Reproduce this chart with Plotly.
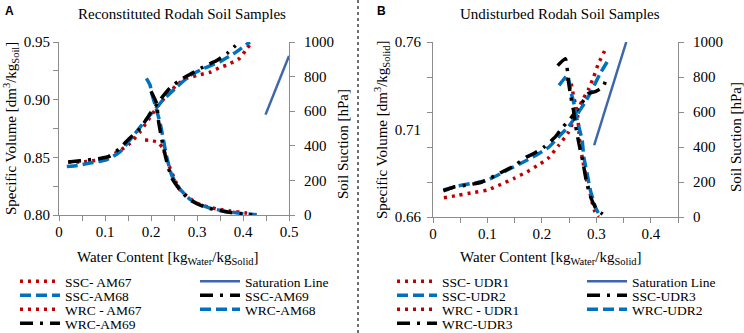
import plotly.graph_objects as go

# ---------------- Panel A: Reconstituted Rodah soil samples ----------------
w_ssc_am67 = [0.02, 0.05, 0.09, 0.11, 0.133, 0.154, 0.176, 0.19, 0.20, 0.22, 0.241, 0.26, 0.274,
              0.30, 0.33, 0.35, 0.365, 0.393, 0.408, 0.422]
v_ssc_am67 = [0.846, 0.846, 0.848, 0.851, 0.856, 0.862, 0.872, 0.880, 0.886, 0.897, 0.907, 0.914,
              0.918, 0.921, 0.924, 0.928, 0.930, 0.936, 0.944, 0.951]

w_sat_a = [0.449, 0.50]
v_sat_a = [0.887, 0.938]

w_ssc_am68 = [0.017, 0.04, 0.067, 0.104, 0.133, 0.16, 0.19, 0.227, 0.256, 0.285, 0.314, 0.35,
              0.38, 0.415]
v_ssc_am68 = [0.842, 0.843, 0.845, 0.848, 0.855, 0.868, 0.883, 0.900, 0.911, 0.921, 0.927, 0.933,
              0.940, 0.950]

w_ssc_am69 = [0.02, 0.046, 0.089, 0.11, 0.13, 0.147, 0.176, 0.20, 0.22, 0.241, 0.263, 0.285,
              0.321, 0.343, 0.365, 0.384]
v_ssc_am69 = [0.846, 0.847, 0.849, 0.851, 0.857, 0.864, 0.875, 0.889, 0.900, 0.910, 0.917, 0.922,
              0.930, 0.934, 0.940, 0.947]

w_wrc_am67 = [0.187, 0.201, 0.215, 0.225, 0.237, 0.25, 0.263, 0.285, 0.30, 0.32, 0.343, 0.372,
              0.404, 0.42]
s_wrc_am67 = [433, 430, 420, 390, 300, 215, 145, 95, 68, 50, 35, 23, 13, 6]

w_wrc_am68 = [0.19, 0.198, 0.2015, 0.209, 0.22, 0.227, 0.234, 0.245, 0.263, 0.285, 0.3065, 0.328,
              0.36, 0.393, 0.43]
s_wrc_am68 = [790, 751, 703, 636, 530, 434, 337, 230, 150, 90, 60, 40, 22, 10, 1]

w_wrc_am69 = [0.20, 0.212, 0.216, 0.223, 0.234, 0.245, 0.263, 0.285, 0.307, 0.328, 0.36, 0.393,
              0.42]
s_wrc_am69 = [715, 646, 549, 443, 310, 215, 145, 87, 57, 38, 20, 8, 1]

# ---------------- Panel B: Undisturbed Rodah soil samples ----------------
w_ssc_udr1 = [0.02, 0.046, 0.076, 0.10, 0.125, 0.149, 0.173, 0.195, 0.213, 0.231, 0.248, 0.261,
              0.273, 0.285, 0.295, 0.304, 0.313, 0.319]
v_ssc_udr1 = [0.671, 0.6724, 0.6741, 0.6754, 0.6787, 0.6821, 0.6859, 0.690, 0.694, 0.701, 0.708,
              0.717, 0.7259, 0.7326, 0.740, 0.7478, 0.7535, 0.7573]

w_sat_b = [0.296, 0.355]
v_sat_b = [0.701, 0.760]

w_ssc_udr2 = [0.019, 0.046, 0.082, 0.10, 0.137, 0.167, 0.19, 0.213, 0.231, 0.249, 0.264, 0.28,
              0.292, 0.307, 0.322]
v_ssc_udr2 = [0.6754, 0.6777, 0.6798, 0.6811, 0.6869, 0.6916, 0.6954, 0.700, 0.7059, 0.7116,
              0.7183, 0.7259, 0.7326, 0.742, 0.7497]

w_ssc_udr3 = [0.019, 0.04, 0.064, 0.09, 0.116, 0.148, 0.173, 0.186, 0.204, 0.225, 0.234, 0.255,
              0.273, 0.286, 0.298, 0.313, 0.319]
v_ssc_udr3 = [0.675, 0.6773, 0.6783, 0.680, 0.684, 0.6891, 0.6945, 0.6964, 0.700, 0.7059, 0.7097,
              0.7173, 0.725, 0.7307, 0.7316, 0.7345, 0.7411]

w_wrc_udr1 = [0.244, 0.252, 0.255, 0.258, 0.262, 0.266, 0.268, 0.270, 0.275, 0.2795, 0.284,
              0.2885, 0.2927, 0.2976, 0.304]
s_wrc_udr1 = [790, 780, 742, 695, 638, 571, 490, 410, 325, 249, 182, 135, 78, 30, 0]

w_wrc_udr2 = [0.2315, 0.247, 0.2527, 0.259, 0.265, 0.274, 0.277, 0.283, 0.289, 0.298, 0.307]
s_wrc_udr2 = [752, 809, 723, 647, 552, 438, 343, 249, 154, 59, 2]

w_wrc_udr3 = [0.229, 0.243, 0.249, 0.253, 0.258, 0.262, 0.268, 0.275, 0.282, 0.29, 0.30, 0.31,
              0.319]
s_wrc_udr3 = [865, 905, 770, 690, 610, 520, 420, 320, 200, 110, 45, 20, 0]

# tick labels
xticks_a = [0, 0.1, 0.2, 0.3, 0.4, 0.5]
yticks_a = [0.80, 0.85, 0.90, 0.95]
xticks_b = [0, 0.1, 0.2, 0.3, 0.4]
yticks_b = [0.66, 0.71, 0.76]
yticks_b_marks = [0.66, 0.68, 0.70, 0.72, 0.74, 0.76]
sticks = [0, 200, 400, 600, 800, 1000]

# ---------------- styles ----------------
RED = "#C00000"
BLUE = "#0070C0"
BLACK = "#000000"
SAT = "#3E66AC"
GRAY = "#8C8C8C"
SERIF = "Liberation Serif"
DOT = "3px,5px"
DASH = "11px,5px"
DASHDOT = "13px,7px,3px,7px"

W, H = 744, 333
ML, MR, MT, MB = 59, 66, 42, 116
PW = W - ML - MR
PH = H - MT - MB


def px2x(px):
    return (px - ML) / PW


def py2y(py):
    return (MT + PH - py) / PH


# legend grid: 2 columns x 4 rows per panel (pixel positions of each column / row)
LEG_COLS = {"A": [15, 195], "B": [392, 582]}
LEG_ROWS = [282, 296, 310, 324]
LEG_FONT = 13.5
LEG_OFFSET = 16  # distance from legend top to centre of its single item

fig = go.Figure()
legend_layout = {}
counter = {"A": 0, "B": 0, "n": 0}


def add(x, y, name, color, dash, width, xa, ya, panel):
    idx = counter[panel]
    counter[panel] += 1
    counter["n"] += 1
    lid = "legend" if counter["n"] == 1 else "legend%d" % counter["n"]
    row, col = idx // 2, idx % 2
    legend_layout[lid] = dict(
        x=LEG_COLS[panel][col] / W, y=1 - (LEG_ROWS[row] - LEG_OFFSET) / H,
        xref="container", yref="container", xanchor="left", yanchor="top",
        orientation="v", bgcolor="rgba(0,0,0,0)", tracegroupgap=0, itemwidth=40,
        font=dict(family=SERIF, size=LEG_FONT, color="black"))
    fig.add_trace(go.Scatter(
        x=x, y=y, name=name, mode="lines", xaxis=xa, yaxis=ya, legend=lid,
        line=dict(color=color, dash=dash, width=width, shape="spline", smoothing=0.5),
        hoverinfo="skip"))


# Panel A (order follows the original legend, read row by row)
add(w_ssc_am67, v_ssc_am67, "SSC- AM67", RED, DOT, 3.5, "x", "y", "A")
add(w_sat_a, v_sat_a, "Saturation Line", SAT, "solid", 2.5, "x", "y", "A")
add(w_ssc_am68, v_ssc_am68, "SSC-AM68", BLUE, DASH, 3.5, "x", "y", "A")
add(w_ssc_am69, v_ssc_am69, "SSC-AM69", BLACK, DASHDOT, 3.5, "x", "y", "A")
add(w_wrc_am67, s_wrc_am67, "WRC - AM67", RED, DOT, 3.5, "x", "y2", "A")
add(w_wrc_am68, s_wrc_am68, "WRC-AM68", BLUE, DASH, 3.5, "x", "y2", "A")
add(w_wrc_am69, s_wrc_am69, "WRC-AM69", BLACK, DASHDOT, 3.5, "x", "y2", "A")

# Panel B
add(w_ssc_udr1, v_ssc_udr1, "SSC- UDR1", RED, DOT, 3.5, "x2", "y3", "B")
add(w_sat_b, v_sat_b, "Saturation Line", SAT, "solid", 2.5, "x2", "y5", "B")
add(w_ssc_udr2, v_ssc_udr2, "SSC-UDR2", BLUE, DASH, 3.5, "x2", "y3", "B")
add(w_ssc_udr3, v_ssc_udr3, "SSC-UDR3", BLACK, DASHDOT, 3.5, "x2", "y3", "B")
add(w_wrc_udr1, s_wrc_udr1, "WRC - UDR1", RED, DOT, 3.5, "x2", "y4", "B")
add(w_wrc_udr2, s_wrc_udr2, "WRC-UDR2", BLUE, DASH, 3.5, "x2", "y4", "B")
add(w_wrc_udr3, s_wrc_udr3, "WRC-UDR3", BLACK, DASHDOT, 3.5, "x2", "y4", "B")

tickfont = dict(family=SERIF, size=15, color="black")
common = dict(showgrid=False, zeroline=False, showline=True, linecolor=GRAY, linewidth=1,
              ticks="outside", ticklen=5, tickcolor=GRAY, tickfont=tickfont)
minor_x = dict(dtick=0.05, ticks="outside", ticklen=5, tickcolor=GRAY)


def text_ann(text, px, py, angle=0, size=15, family=SERIF, anchor="center"):
    return dict(text=text, xref="paper", yref="paper", x=px2x(px), y=py2y(py),
                xanchor=anchor, yanchor="middle", showarrow=False, textangle=angle,
                font=dict(family=family, size=size, color="black"))


fig.update_layout(
    width=W, height=H, plot_bgcolor="white", paper_bgcolor="white",
    margin=dict(l=ML, r=MR, t=MT, b=MB, autoexpand=False),
    showlegend=True,
    xaxis=dict(domain=[0, px2x(289)], range=[0, 0.5], tickvals=xticks_a, anchor="y",
               minor=minor_x, ticklabelstandoff=-2, **common),
    yaxis=dict(domain=[2 / PH, 1], range=[0.80, 0.95], tickvals=yticks_a, tickformat=".2f",
               anchor="x", minor=dict(dtick=0.025, tick0=0.8, ticks="outside", ticklen=5,
                                      tickcolor=GRAY),
               **common),
    yaxis2=dict(overlaying="y", side="right", range=[0, 1000], tickvals=sticks, anchor="x",
                ticklabelstandoff=6, **common),
    xaxis2=dict(domain=[px2x(433), 1], range=[0, 0.45], tickvals=xticks_b, anchor="y3",
                minor=minor_x, ticklabelstandoff=-2, **common),
    yaxis3=dict(domain=[0, 1], range=[0.66, 0.76], tickvals=yticks_b, tickformat=".2f",
                anchor="x2", ticklabelstandoff=8,
                **{**common, "ticks": ""}),
    yaxis4=dict(overlaying="y3", side="right", range=[0, 1000], tickvals=sticks, anchor="x2",
                ticklabelstandoff=6, **common),
    yaxis5=dict(overlaying="y3", side="left", range=[0.66, 0.76], tickvals=yticks_b_marks,
                anchor="x2", showticklabels=False,
                **{**common, "showline": False}),
    annotations=[
        text_ann("Reconstituted Rodah Soil Samples", 182, 14),
        text_ann("Undisturbed Rodah Soil Samples", 560, 14),
        text_ann("<b>A</b>", 3, 11, size=12, family="Liberation Sans", anchor="left"),
        text_ann("<b>B</b>", 375, 11, size=12, family="Liberation Sans", anchor="left"),
        # axis titles
        text_ann("Specific Volume [dm<sup>3</sup>/kg<sub>Soil</sub>]", 11, 129, angle=-90),
        text_ann("Soil Suction [hPa]", 343, 144, angle=-90),
        text_ann("Water Content [kg<sub>Water</sub>/kg<sub>Solid</sub>]", 168, 258),
        text_ann("Specific Volume [dm<sup>3</sup>/kg<sub>Solid</sub>]", 382, 130, angle=-90),
        text_ann("Soil Suction [hPa]", 736, 137, angle=-90),
        text_ann("Water Content [kg<sub>Water</sub>/kg<sub>Solid</sub>]", 551, 258),
    ],
    shapes=[
        dict(type="line", xref="paper", yref="paper", x0=px2x(358), x1=px2x(358),
             y0=py2y(H), y1=py2y(0),
             line=dict(color="#404040", width=1.5, dash="dot")),
    ],
    **legend_layout,
)

fig.write_html("out.html", config={"displayModeBar": False},
               post_script="document.body.style.margin='0';")
